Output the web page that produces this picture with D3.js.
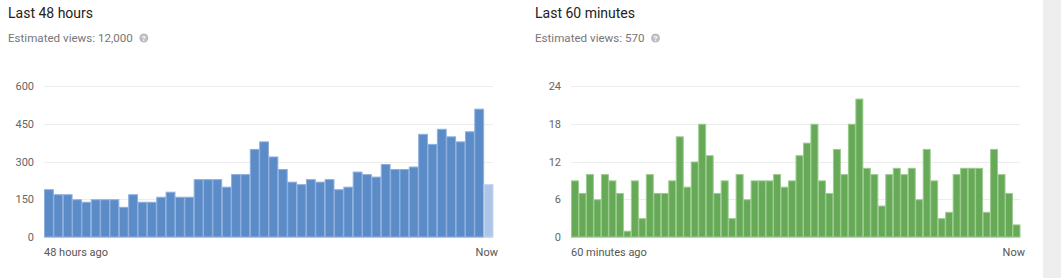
<!DOCTYPE html>
<html>
<head>
<meta charset="utf-8">
<script src="https://cdn.jsdelivr.net/npm/d3@7"></script>
<style>
  body { margin: 0; background: #fff; font-family: Roboto, "Noto Sans", Arial, sans-serif; }
  #chart-container { width: 1061px; height: 278px; }
</style>
</head>
<body>
<div id="chart-container"></div>
<script>
// Views per hour, last 48 hours (last bar = current partial hour)
const hourViews = [190, 170, 170, 150, 140, 150, 150, 150, 120, 170, 140, 140,
    160, 180, 160, 160, 230, 230, 230, 200, 250, 250, 350, 380,
    320, 270, 220, 210, 230, 220, 230, 190, 200, 260, 250, 240,
    290, 270, 270, 280, 410, 370, 430, 400, 380, 420, 510, 210];
const hourTicks = [0, 150, 300, 450, 600];

// Views per minute, last 60 minutes
const minuteViews = [9, 7, 10, 6, 10, 9, 7, 1, 9, 3, 10, 7, 7, 9, 16, 8, 12, 18, 13, 7,
    9, 3, 10, 6, 9, 9, 9, 10, 8, 9, 13, 15, 18, 9, 7, 14, 10, 18, 22, 11,
    10, 5, 10, 11, 10, 11, 6, 14, 9, 3, 4, 10, 11, 11, 11, 4, 14, 10, 7, 2];
const minuteTicks = [0, 6, 12, 18, 24];

const width = 1061;
const height = 278;

const svg = d3.select("#chart-container")
    .append("svg")
    .attr("width", width)
    .attr("height", height);

// Grey strip on the right edge
svg.append("rect")
    .attr("x", 1043).attr("y", 0)
    .attr("width", width - 1043).attr("height", height)
    .attr("fill", "#eeeeee");

function drawPanel(opts) {
    const g = svg.append("g");

    g.append("text")
        .attr("x", opts.left)
        .attr("y", 18)
        .style("font-size", "14px")
        .attr("fill", "#222")
        .text(opts.title);

    const sub = g.append("text")
        .attr("x", opts.left)
        .attr("y", 42)
        .style("font-size", "11.6px")
        .attr("fill", "#777")
        .text(opts.subtitle);

    // help icon
    const subW = sub.node().getComputedTextLength();
    const hx = opts.left + subW + 11;
    g.append("circle")
        .attr("cx", hx).attr("cy", 38).attr("r", 4.5)
        .attr("fill", "#bdbdbd");
    g.append("text")
        .attr("x", hx).attr("y", 41)
        .attr("text-anchor", "middle")
        .style("font-size", "8px")
        .style("font-weight", "bold")
        .attr("fill", "#fff")
        .text("?");

    const x = d3.scaleBand()
        .domain(d3.range(opts.values.length))
        .range([opts.x0, opts.x1]);

    const y = d3.scaleLinear()
        .domain([0, d3.max(opts.ticks)])
        .range([237, 86]);

    // Gridlines
    g.selectAll(".grid")
        .data(opts.ticks)
        .enter()
        .append("line")
        .attr("x1", opts.x0)
        .attr("x2", opts.x1)
        .attr("y1", (d) => Math.round(y(d)) + 0.5)
        .attr("y2", (d) => Math.round(y(d)) + 0.5)
        .attr("stroke", (d) => d === 0 ? "#dcdcdc" : "#ececec")
        .attr("stroke-width", 1);

    // Tick labels
    g.selectAll(".tick-label")
        .data(opts.ticks)
        .enter()
        .append("text")
        .attr("x", opts.x0 - 10)
        .attr("y", (d) => y(d) + 4)
        .attr("text-anchor", "end")
        .style("font-size", "11px")
        .attr("fill", "#666")
        .text((d) => d);

    // Bars
    g.selectAll(".bar")
        .data(opts.values)
        .enter()
        .append("rect")
        .attr("x", (d, i) => x(i) + 0.5)
        .attr("y", (d) => y(d) + 0.5)
        .attr("width", x.bandwidth() - 0.5)
        .attr("height", (d) => y(0) - y(d) - 0.5)
        .attr("fill", (d, i) => opts.partialLast && i === opts.values.length - 1 ? opts.lightColor : opts.color)
        .attr("stroke", (d, i) => opts.partialLast && i === opts.values.length - 1 ? "#c4d6f0" : opts.edgeColor)
        .attr("stroke-width", 1);

    // X labels
    g.append("text")
        .attr("x", opts.x0)
        .attr("y", 256)
        .style("font-size", "11px")
        .attr("fill", "#555")
        .text(opts.startLabel);

    g.append("text")
        .attr("x", opts.x1 + 5)
        .attr("y", 256)
        .attr("text-anchor", "end")
        .style("font-size", "11px")
        .attr("fill", "#555")
        .text("Now");
}

drawPanel({
    left: 8,
    title: "Last 48 hours",
    subtitle: "Estimated views: 12,000",
    values: hourViews,
    ticks: hourTicks,
    x0: 44,
    x1: 493,
    color: "#5b8cc8",
    edgeColor: "#8fb0df",
    lightColor: "#adc6e8",
    partialLast: true,
    startLabel: "48 hours ago"
});

drawPanel({
    left: 535,
    title: "Last 60 minutes",
    subtitle: "Estimated views: 570",
    values: minuteViews,
    ticks: minuteTicks,
    x0: 571,
    x1: 1020,
    color: "#66aa58",
    edgeColor: "#9ccb8f",
    lightColor: "#66aa58",
    partialLast: false,
    startLabel: "60 minutes ago"
});
</script>
</body>
</html>
